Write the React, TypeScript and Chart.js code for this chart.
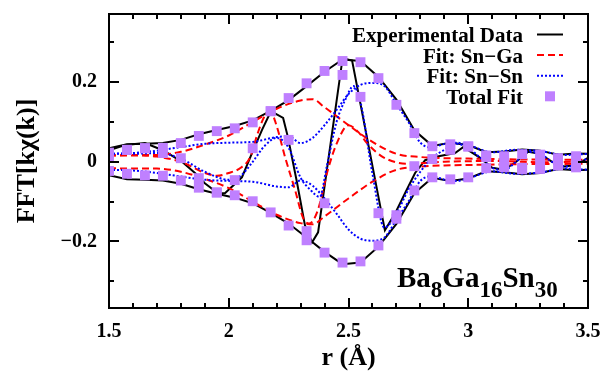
import React, { useEffect, useRef } from "react";
import { Chart, registerables } from "chart.js";

Chart.register(...registerables);

// ---------- data ----------
// Experimental data: magnitude envelope
const expEnvR = [1.5, 1.575, 1.65, 1.725, 1.8, 1.875, 1.95, 2.025, 2.1, 2.175, 2.25, 2.325, 2.4, 2.475, 2.55, 2.625, 2.7, 2.775, 2.85, 2.925, 3.0, 3.075, 3.15, 3.225, 3.3, 3.375, 3.45, 3.5];
const expMag = [0.034, 0.044, 0.045, 0.047, 0.055, 0.069, 0.080, 0.090, 0.104, 0.128, 0.155, 0.190, 0.226, 0.257, 0.253, 0.213, 0.156, 0.079, 0.040, 0.048, 0.042, 0.024, 0.026, 0.031, 0.028, 0.018, 0.021, 0.020];
// Experimental data: real part
const expReR = [1.5, 1.567, 1.65, 1.725, 1.805, 1.859, 1.9, 1.955, 1.984, 2.055, 2.097, 2.139, 2.176, 2.227, 2.247, 2.285, 2.318, 2.348, 2.373, 2.473, 2.49, 2.515, 2.652, 2.694, 2.736, 2.778, 2.82, 2.861, 2.945, 2.98, 3.05, 3.1, 3.15, 3.2, 3.25, 3.3, 3.35, 3.4, 3.45, 3.5];
const expRe = [0.029, 0.042, 0.047, 0.029, 0.0, -0.028, -0.054, -0.079, -0.079, -0.039, 0.022, 0.08, 0.127, 0.110, 0.062, -0.052, -0.159, -0.202, -0.177, 0.25, 0.258, 0.254, -0.172, -0.13, -0.079, -0.028, 0.004, 0.012, 0.022, 0.037, 0.01, -0.015, -0.02, 0.0, 0.025, 0.02, 0.0, -0.012, -0.008, 0.01];

// Fit: Sn-Ga
const gaEnvR = [1.5, 1.6, 1.7, 1.8, 1.9, 2.0, 2.1, 2.2, 2.3, 2.35, 2.4, 2.5, 2.6, 2.7, 2.8, 2.9, 3.0, 3.2, 3.5];
const gaMag = [0.016, 0.017, 0.017, 0.025, 0.043, 0.066, 0.1, 0.133, 0.154, 0.157, 0.137, 0.092, 0.05, 0.02, 0.012, 0.009, 0.008, 0.006, 0.005];
const gaReR = [1.5, 1.6, 1.7, 1.8, 1.9, 1.95, 2.0, 2.05, 2.09, 2.12, 2.15, 2.175, 2.2, 2.235, 2.277, 2.31, 2.335, 2.37, 2.414, 2.45, 2.5, 2.545, 2.577, 2.644, 2.75, 2.9, 3.1, 3.3, 3.5];
const gaRe = [0.016, 0.016, 0.013, 0.0, -0.028, -0.035, -0.028, -0.015, 0.012, 0.07, 0.115, 0.125, 0.09, 0.012, -0.071, -0.14, -0.155, -0.125, -0.02, 0.045, 0.092, 0.072, 0.047, 0.012, -0.005, 0.0, 0.002, -0.001, 0.001];

// Fit: Sn-Sn
const snEnvR = [1.5, 1.6, 1.7, 1.8, 1.9, 2.0, 2.1, 2.2, 2.25, 2.3, 2.35, 2.4, 2.45, 2.5, 2.55, 2.6, 2.65, 2.7, 2.75, 2.8, 2.85, 2.9, 2.95, 3.0, 3.1, 3.2, 3.3, 3.4, 3.5];
const snMag = [0.02, 0.022, 0.028, 0.037, 0.045, 0.048, 0.05, 0.062, 0.064, 0.047, 0.06, 0.092, 0.13, 0.17, 0.193, 0.198, 0.19, 0.145, 0.1, 0.048, 0.036, 0.045, 0.048, 0.042, 0.024, 0.03, 0.027, 0.017, 0.02];
const snReR = [1.5, 1.6, 1.7, 1.8, 1.9, 2.0, 2.05, 2.1, 2.15, 2.2, 2.25, 2.3, 2.34, 2.38, 2.41, 2.45, 2.49, 2.52, 2.55, 2.6, 2.65, 2.7, 2.75, 2.8, 2.85, 2.9, 2.95, 3.0, 3.05, 3.1, 3.15, 3.2, 3.25, 3.3, 3.35, 3.4, 3.45, 3.5];
const snRe = [0.02, 0.02, 0.022, 0.008, -0.025, -0.045, -0.035, 0.0, 0.04, 0.06, 0.035, -0.04, -0.07, -0.088, -0.01, 0.1, 0.16, 0.19, 0.15, -0.03, -0.165, -0.13, -0.07, -0.025, 0.01, 0.03, 0.045, 0.035, 0.01, -0.015, -0.02, 0.0, 0.025, 0.02, 0.0, -0.012, -0.008, 0.01];

// Total fit (squares)
const fitR = [1.5, 1.575, 1.65, 1.725, 1.8, 1.875, 1.95, 2.025, 2.1, 2.175, 2.25, 2.325, 2.4, 2.475, 2.55, 2.625, 2.7, 2.775, 2.85, 2.925, 3.0, 3.075, 3.15, 3.225, 3.3, 3.375, 3.45];
const fitMag = [0.023, 0.030, 0.034, 0.035, 0.047, 0.065, 0.077, 0.084, 0.099, 0.127, 0.160, 0.197, 0.228, 0.253, 0.250, 0.210, 0.143, 0.072, 0.039, 0.044, 0.039, 0.016, 0.014, 0.019, 0.018, 0.009, 0.014];
const fitRe = [0.014, 0.030, 0.034, 0.022, 0.009, -0.041, -0.077, -0.046, 0.034, 0.127, 0.055, -0.174, -0.104, 0.218, 0.163, -0.129, -0.134, -0.011, 0.007, 0.030, 0.038, 0.012, -0.010, -0.015, 0.005, 0.005, -0.010];

// Axes / ticks
const xMin = 1.5;
const xMax = 3.5;
const yMin = -0.367;
const yMax = 0.371;
const xTickVals = [1.5, 2, 2.5, 3, 3.5];
const xTickLabels = ["1.5", "2", "2.5", "3", "3.5"];
const yTickVals = [-0.2, 0, 0.2];
const yTickLabels = ["\u22120.2", "0", "0.2"];
const xMinorTicks = [1.5, 1.6, 1.7, 1.8, 1.9, 2.0, 2.1, 2.2, 2.3, 2.4, 2.5, 2.6, 2.7, 2.8, 2.9, 3.0, 3.1, 3.2, 3.3, 3.4, 3.5];
const yMinorTicks = [-0.3, -0.1, 0.1, 0.3];

const legendLabels = ["Experimental Data", "Fit: Sn\u2212Ga", "Fit: Sn\u2212Sn", "Total Fit"];

const BLACK = "#000000";
const RED = "#ff0000";
const BLUE = "#0000ff";
const PURPLE = "#bf80ff";
const FONT = "'Liberation Serif', 'Times New Roman', serif";

const pts = (xs: number[], ys: number[], sign = 1) => xs.map((x, i) => ({ x, y: sign * ys[i] }));

const decorPlugin = {
  id: "decor",
  afterDatasetsDraw(chart: any) {
    const ctx = chart.ctx;
    const { left, right, top, bottom } = chart.chartArea;
    const xs = chart.scales.x;
    const ys = chart.scales.y;
    ctx.save();
    ctx.strokeStyle = "#000";
    ctx.lineWidth = 2;
    ctx.setLineDash([]);
    // ticks (inward, mirrored)
    const major = 10, minor = 5;
    xMinorTicks.forEach((v) => {
      const p = Math.round(xs.getPixelForValue(v));
      const isMajor = xTickVals.some((t) => Math.abs(t - v) < 1e-6);
      const len = isMajor ? major : minor;
      ctx.beginPath();
      ctx.moveTo(p, bottom);
      ctx.lineTo(p, bottom - len);
      ctx.moveTo(p, top);
      ctx.lineTo(p, top + len);
      ctx.stroke();
    });
    [...yTickVals, ...yMinorTicks].forEach((v) => {
      const p = Math.round(ys.getPixelForValue(v));
      const isMajor = yTickVals.some((t) => Math.abs(t - v) < 1e-6);
      const len = isMajor ? major : minor;
      ctx.beginPath();
      ctx.moveTo(left, p);
      ctx.lineTo(left + len, p);
      ctx.moveTo(right, p);
      ctx.lineTo(right - len, p);
      ctx.stroke();
    });
    // frame
    ctx.strokeRect(left, top, right - left, bottom - top);

    // legend
    ctx.fillStyle = "#000";
    ctx.font = `bold 21px ${FONT}`;
    ctx.textAlign = "right";
    ctx.textBaseline = "alphabetic";
    const textRight = right - 65;
    const sx0 = right - 51, sx1 = right - 25;
    legendLabels.forEach((lab, i) => {
      const base = top + 28 + i * 20.6;
      ctx.fillText(lab, textRight, base);
      const sy = base - 7.5;
      ctx.lineWidth = 2;
      if (i === 0) {
        ctx.strokeStyle = BLACK; ctx.setLineDash([]);
        ctx.beginPath(); ctx.moveTo(sx0, sy); ctx.lineTo(sx1, sy); ctx.stroke();
      } else if (i === 1) {
        ctx.strokeStyle = RED; ctx.setLineDash([7, 4]);
        ctx.beginPath(); ctx.moveTo(sx0, sy); ctx.lineTo(sx1, sy); ctx.stroke();
      } else if (i === 2) {
        ctx.strokeStyle = BLUE; ctx.setLineDash([2, 2]);
        ctx.beginPath(); ctx.moveTo(sx0, sy); ctx.lineTo(sx1, sy); ctx.stroke();
      } else {
        ctx.setLineDash([]);
        ctx.fillStyle = PURPLE;
        ctx.fillRect((sx0 + sx1) / 2 - 5, sy - 5, 10, 10);
        ctx.fillStyle = "#000";
      }
    });
    ctx.setLineDash([]);

    // annotation Ba8Ga16Sn30
    const parts: [string, boolean][] = [["Ba", false], ["8", true], ["Ga", false], ["16", true], ["Sn", false], ["30", true]];
    let x = left + 288;
    const base = bottom - 21;
    ctx.textAlign = "left";
    parts.forEach(([t, sub]) => {
      ctx.font = sub ? `bold 23px ${FONT}` : `bold 29px ${FONT}`;
      ctx.fillText(t, x, sub ? base + 10 : base);
      x += ctx.measureText(t).width;
    });

    // axis titles
    ctx.font = `bold 26px ${FONT}`;
    ctx.textAlign = "center";
    ctx.textBaseline = "alphabetic";
    ctx.fillText("r (\u00c5)", (left + right) / 2, bottom + 57);
    ctx.save();
    ctx.translate(34, (top + bottom) / 2);
    ctx.rotate(-Math.PI / 2);
    ctx.fillText("FFT[k\u03c7(k)]", 0, 0);
    ctx.restore();
    ctx.restore();
  },
};

export default function App() {
  const ref = useRef<HTMLCanvasElement | null>(null);
  useEffect(() => {
    document.body.style.margin = "0";
    const canvas = ref.current;
    if (!canvas) return;
    const lineDs = (data: any[], color: string, dash: number[], smooth: boolean, order: number) => ({
      data,
      borderColor: color,
      backgroundColor: color,
      borderWidth: 2,
      borderDash: dash,
      pointRadius: 0,
      fill: false,
      tension: 0,
      cubicInterpolationMode: smooth ? "monotone" : "default",
      order,
    });
    const sqDs = (data: any[]) => ({
      data,
      showLine: false,
      pointStyle: "rect",
      pointRadius: 7,
      pointBackgroundColor: PURPLE,
      pointBorderColor: PURPLE,
      pointBorderWidth: 0,
      order: 0,
    });
    const zeroPad = (s: any) => {
      s.paddingLeft = 0;
      s.paddingRight = 0;
      s.paddingTop = 0;
      s.paddingBottom = 0;
    };
    const chart = new Chart(canvas, {
      type: "line",
      data: {
        datasets: [
          sqDs(pts(fitR, fitMag, 1)),
          sqDs(pts(fitR, fitMag, -1)),
          sqDs(pts(fitR, fitRe, 1)),
          lineDs(pts(snEnvR, snMag, 1), BLUE, [2, 2], true, 1),
          lineDs(pts(snEnvR, snMag, -1), BLUE, [2, 2], true, 1),
          lineDs(pts(snReR, snRe, 1), BLUE, [2, 2], true, 1),
          lineDs(pts(gaEnvR, gaMag, 1), RED, [7, 4], true, 2),
          lineDs(pts(gaEnvR, gaMag, -1), RED, [7, 4], true, 2),
          lineDs(pts(gaReR, gaRe, 1), RED, [7, 4], true, 2),
          lineDs(pts(expEnvR, expMag, 1), BLACK, [], false, 3),
          lineDs(pts(expEnvR, expMag, -1), BLACK, [], false, 3),
          lineDs(pts(expReR, expRe, 1), BLACK, [], false, 3),
        ] as any,
      },
      options: {
        responsive: false,
        devicePixelRatio: 1,
        animation: false,
        parsing: false as any,
        normalized: true,
        layout: { padding: { top: 14, right: 17, left: 0, bottom: 0 } },
        plugins: { legend: { display: false }, tooltip: { enabled: false } },
        scales: {
          x: {
            type: "linear",
            min: xMin,
            max: xMax,
            afterFit: (s: any) => { s.height = 63; zeroPad(s); },
            afterBuildTicks: (s: any) => { s.ticks = xTickVals.map((v) => ({ value: v })); },
            grid: { display: false, drawTicks: false },
            border: { display: false },
            ticks: {
              autoSkip: false,
              maxRotation: 0,
              padding: 12,
              color: "#000",
              font: { family: FONT, size: 20, weight: "bold" },
              callback: (v: any) => xTickLabels[xTickVals.indexOf(Number(v))] ?? "",
            },
          },
          y: {
            type: "linear",
            min: yMin,
            max: yMax,
            afterFit: (s: any) => { s.width = 109; zeroPad(s); },
            afterBuildTicks: (s: any) => { s.ticks = yTickVals.map((v) => ({ value: v })); },
            grid: { display: false, drawTicks: false },
            border: { display: false },
            ticks: {
              autoSkip: false,
              padding: 12,
              color: "#000",
              font: { family: FONT, size: 20, weight: "bold" },
              callback: (v: any) => yTickLabels[yTickVals.indexOf(Number(v))] ?? "",
            },
          },
        },
      } as any,
      plugins: [decorPlugin],
    });
    return () => chart.destroy();
  }, []);
  return (
    <div style={{ position: "absolute", left: 0, top: 0, width: 605, height: 371, background: "#fff" }}>
      <canvas ref={ref} width={605} height={371} style={{ display: "block", width: 605, height: 371 }} />
    </div>
  );
}
